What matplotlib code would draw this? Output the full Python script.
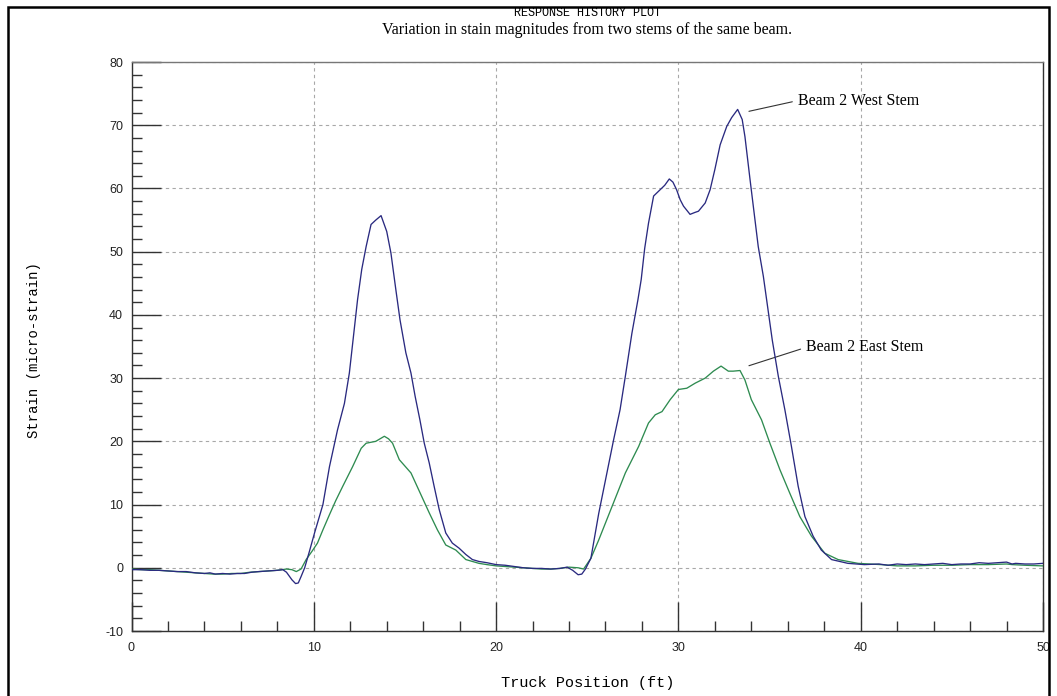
import matplotlib
matplotlib.use("Agg")
import matplotlib.pyplot as plt
from matplotlib.patches import Rectangle
from matplotlib.ticker import MultipleLocator

plt.rcParams["axes.unicode_minus"] = False

# ---- data ----
west_x = [0.0, 0.5, 1.0, 1.5, 2.0, 2.5, 3.0, 3.5, 4.0, 4.3, 4.6, 5.0, 5.4, 5.8, 6.2, 6.6, 7.0, 7.5, 8.0, 8.3,
          8.5, 8.8, 9.0, 9.15, 9.3, 9.5, 9.75, 10.04, 10.5, 10.86, 11.3, 11.68, 11.95, 12.2, 12.4, 12.63, 12.87,
          13.14, 13.4, 13.69, 14.0, 14.23, 14.5, 14.73, 15.05, 15.33, 15.56, 15.82, 16.06, 16.33, 16.6, 16.88,
          17.24, 17.6, 17.97, 18.34, 18.7, 19.06, 19.5, 20.0, 20.5, 21.0, 21.5, 22.0, 22.5, 23.0, 23.5, 23.9,
          24.2, 24.5, 24.7, 24.9, 25.2, 25.63, 26.0, 26.45, 26.8, 27.09, 27.45, 27.78, 27.96, 28.15, 28.36,
          28.64, 29.0, 29.25, 29.5, 29.7, 29.9, 30.1, 30.28, 30.64, 30.9, 31.1, 31.47, 31.74, 32.0, 32.29,
          32.65, 32.92, 33.25, 33.5, 33.65, 33.93, 34.2, 34.38, 34.66, 34.84, 35.15, 35.48, 35.84, 36.2,
          36.57, 36.94, 37.39, 37.84, 38.4, 39.3, 40.2, 41.0, 41.5, 42.0, 42.5, 43.0, 43.5, 44.0, 44.5, 45.0,
          45.5, 46.0, 46.5, 47.0, 47.5, 48.0, 48.3, 48.5, 49.0, 49.5, 50.0]
west_y = [-0.3, -0.3, -0.4, -0.4, -0.5, -0.6, -0.6, -0.8, -0.9, -0.8, -1.0, -0.9, -1.0, -0.9, -0.9, -0.7, -0.6, -0.5, -0.4, -0.3,
          -0.7, -1.9, -2.5, -2.4, -1.4, 0.0, 2.5, 5.5, 10.0, 16.0, 21.8, 26.0, 30.8, 37.2, 42.4, 47.2, 50.8,
          54.3, 55.0, 55.7, 53.2, 49.8, 44.0, 39.2, 34.0, 30.8, 27.1, 23.4, 19.7, 16.6, 12.9, 9.2,
          5.5, 3.9, 3.1, 2.1, 1.3, 1.0, 0.8, 0.5, 0.4, 0.2, 0.0, -0.1, -0.1, -0.2, -0.1, 0.1,
          -0.4, -1.1, -1.0, -0.2, 1.5, 8.6, 13.9, 20.3, 25.0, 30.3, 37.1, 42.4, 45.6, 50.5, 54.5,
          58.8, 59.8, 60.5, 61.5, 61.0, 59.8, 58.2, 57.2, 55.9, 56.2, 56.4, 57.7, 59.8, 63.0, 66.9,
          69.8, 71.2, 72.5, 70.9, 68.2, 61.4, 55.1, 50.8, 46.1, 42.4, 36.0, 30.3, 25.0, 19.2,
          12.9, 8.1, 5.0, 2.8, 1.3, 0.7, 0.5, 0.6, 0.4, 0.6, 0.5, 0.6, 0.5, 0.6, 0.7, 0.5,
          0.6, 0.6, 0.8, 0.7, 0.8, 0.9, 0.6, 0.7, 0.6, 0.6, 0.7]

east_x = [0.0, 0.5, 1.0, 1.5, 2.0, 2.5, 3.0, 3.5, 4.0, 4.5, 5.0, 5.5, 6.0, 6.5, 7.0, 7.5, 8.0, 8.5, 8.8, 9.04,
          9.3, 9.58, 9.9, 10.2, 10.5, 10.86, 11.2, 11.59, 12.13, 12.6, 12.87, 13.4, 13.87, 14.1, 14.32, 14.69,
          15.33, 15.87, 16.33, 16.78, 17.24, 17.79, 18.34, 19.06, 19.5, 20.0, 20.5, 21.0, 21.5, 22.0, 22.5,
          23.0, 23.5, 24.0, 24.5, 24.8, 25.2, 25.63, 26.36, 27.09, 27.82, 28.36, 28.73, 29.1, 29.55, 30.0,
          30.46, 30.92, 31.47, 31.92, 32.34, 32.74, 33.0, 33.38, 33.65, 34.0, 34.56, 35.02, 35.57, 36.11,
          36.66, 37.3, 38.03, 38.76, 39.85, 41.1, 42.0, 43.0, 44.0, 45.0, 46.0, 47.0, 48.0, 48.3, 49.0, 50.0]
east_y = [-0.2, -0.3, -0.3, -0.4, -0.5, -0.6, -0.7, -0.8, -0.9, -1.0, -1.0, -0.9, -0.9, -0.7, -0.6, -0.5, -0.4, -0.2, -0.3, -0.6,
          -0.2, 1.3, 2.6, 3.9, 6.0, 8.4, 10.6, 12.9, 16.0, 18.9, 19.7, 20.0, 20.8, 20.4, 19.7, 17.1,
          15.0, 11.6, 8.7, 6.0, 3.6, 2.8, 1.3, 0.7, 0.5, 0.3, 0.2, 0.1, 0.0, -0.1, -0.2,
          -0.2, -0.1, 0.1, 0.0, -0.2, 1.5, 4.4, 9.7, 15.0, 19.2, 22.9, 24.2, 24.7, 26.6, 28.2,
          28.4, 29.2, 30.0, 31.1, 31.9, 31.1, 31.1, 31.2, 29.7, 26.6, 23.4, 19.7, 15.5, 11.8,
          8.1, 5.0, 2.3, 1.3, 0.7, 0.5, 0.3, 0.3, 0.4, 0.4, 0.5, 0.5, 0.6, 0.5, 0.4, 0.3]

series_labels = ["Beam 2 West Stem", "Beam 2 East Stem"]
title = "RESPONSE HISTORY PLOT"
subtitle = "Variation in stain magnitudes from two stems of the same beam."
xlabel = "Truck Position (ft)"
ylabel = "Strain (micro-strain)"

# ---- figure ----
W, H = 1057, 696
fig = plt.figure(figsize=(W / 100, H / 100), dpi=100)
ax = fig.add_axes([131.5 / W, 1 - 631 / H, (1043 - 131.5) / W, (631 - 62) / H])

mono = "Liberation Mono"
serif = "Liberation Serif"
sans = "Liberation Sans"

ax.plot(east_x, east_y, color="#2e8b50", lw=0.95, zorder=3)
ax.plot(west_x, west_y, color="#2a2a80", lw=0.95, zorder=4)

ax.set_xlim(0, 50)
ax.set_ylim(-10, 80)
ax.xaxis.set_major_locator(MultipleLocator(10))
ax.xaxis.set_minor_locator(MultipleLocator(2))
ax.yaxis.set_major_locator(MultipleLocator(10))
ax.yaxis.set_minor_locator(MultipleLocator(2))

ax.grid(True, which="major", color="#a8a8a8", linestyle=(0, (3, 3)), linewidth=0.8, zorder=1)
ax.tick_params(which="major", direction="in", length=21, width=1.0, color="#333333",
               labelsize=9, labelcolor="#222222")
ax.tick_params(which="minor", direction="in", length=7, width=1.0, color="#333333")
ax.tick_params(axis="y", which="major", pad=6)
ax.tick_params(axis="x", which="major", pad=8)
for lab in ax.get_xticklabels() + ax.get_yticklabels():
    lab.set_fontfamily(sans)

for s in ["left", "bottom", "right"]:
    ax.spines[s].set_color("#333333")
    ax.spines[s].set_linewidth(1.0)
ax.spines["top"].set_color("#777777")
ax.spines["top"].set_linewidth(1.0)

# annotations
ax.annotate(series_labels[0], xy=(33.87, 72.2), xytext=(36.55, 73.9),
            fontfamily=serif, fontsize=11.5, va="center", ha="left",
            arrowprops=dict(arrowstyle="-", color="#333333", lw=0.8, shrinkA=2, shrinkB=0,
                            relpos=(0, 0.5)))
ax.annotate(series_labels[1], xy=(33.87, 31.96), xytext=(37.0, 34.86),
            fontfamily=serif, fontsize=11.5, va="center", ha="left",
            arrowprops=dict(arrowstyle="-", color="#333333", lw=0.8, shrinkA=2, shrinkB=0,
                            relpos=(0, 0.5)))

cx = (131.5 + 1043) / 2 / W
fig.text(cx, 1 - 13 / H, title, fontfamily=mono, fontsize=8.5, ha="center", va="center")
fig.text(cx, 1 - 30 / H, subtitle, fontfamily=serif, fontsize=11.5, ha="center", va="center")
fig.text(cx, 1 - 683 / H, xlabel, fontfamily=mono, fontsize=11, ha="center", va="center")
fig.text(34 / W, 1 - 350 / H, ylabel, fontfamily=mono, fontsize=10, ha="center", va="center",
         rotation=90)

# outer border
fig.patches.append(Rectangle((7.5 / W, -0.05), (1049 - 7.5) / W, 1 - 7.5 / H + 0.05,
                             transform=fig.transFigure, fill=False, edgecolor="black",
                             linewidth=1.8, zorder=10))

fig.savefig("out.png", dpi=100)
